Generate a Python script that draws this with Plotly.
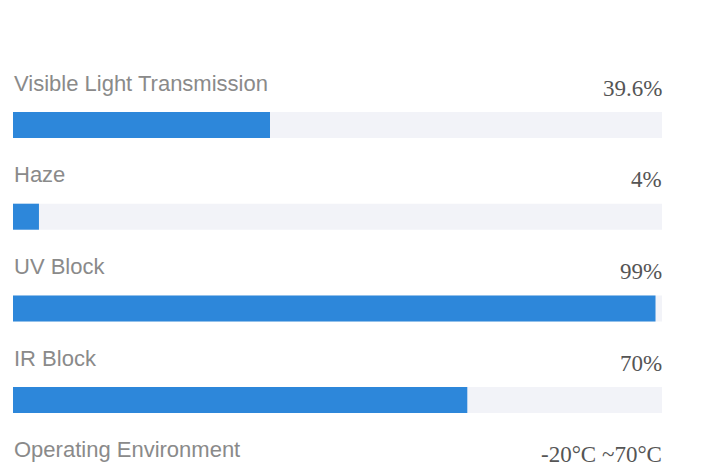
import plotly.graph_objects as go

labels = ["Visible Light Transmission", "Haze", "UV Block", "IR Block", "Operating Environment"]
values = [39.6, 4, 99, 70]
value_texts = ["39.6%", "4%", "99%", "70%", "-20°C ~70°C"]

W, H = 709, 474
page_offset = 8          # default body margin of the html page
pitch = 91.7             # px between rows
first_bar_center = 125 - page_offset
bar_h = 26
label_offset = 42        # px above bar centre (labels)
value_offset = 37        # px above bar centre (values)

rows = list(range(len(values)))
u = 1.0 / pitch
y_top = -first_bar_center * u
y_bot = (H - first_bar_center) * u

fig = go.Figure()
fig.add_trace(go.Bar(
    x=[100] * len(values), y=rows, orientation="h",
    marker=dict(color="#f2f3f8", line=dict(width=0)),
    width=bar_h * u, hoverinfo="skip", showlegend=False,
))
fig.add_trace(go.Bar(
    x=values, y=rows, orientation="h",
    marker=dict(color="#2d87da", line=dict(width=0)),
    width=bar_h * u, showlegend=False,
))

for i, (lab, vt) in enumerate(zip(labels, value_texts)):
    fig.add_annotation(x=0, y=i - label_offset * u, xref="x", yref="y", text=lab, showarrow=False,
                       xanchor="left", yanchor="middle", xshift=-1,
                       font=dict(family="Liberation Sans, Arial", size=22, color="#8a8a8a"))
    fig.add_annotation(x=100, y=i - value_offset * u, xref="x", yref="y", text=vt, showarrow=False,
                       xanchor="right", yanchor="middle", xshift=2,
                       font=dict(family="Liberation Serif, Times New Roman", size=23, color="#555555"))

fig.update_layout(
    width=W, height=H,
    margin=dict(l=13 - page_offset, r=W - (13 - page_offset) - 649, t=0, b=0),
    paper_bgcolor="white", plot_bgcolor="white",
    barmode="overlay",
    xaxis=dict(range=[0, 100], visible=False, fixedrange=True),
    yaxis=dict(range=[y_bot, y_top], visible=False, fixedrange=True),
)
fig.write_html("out.html")
